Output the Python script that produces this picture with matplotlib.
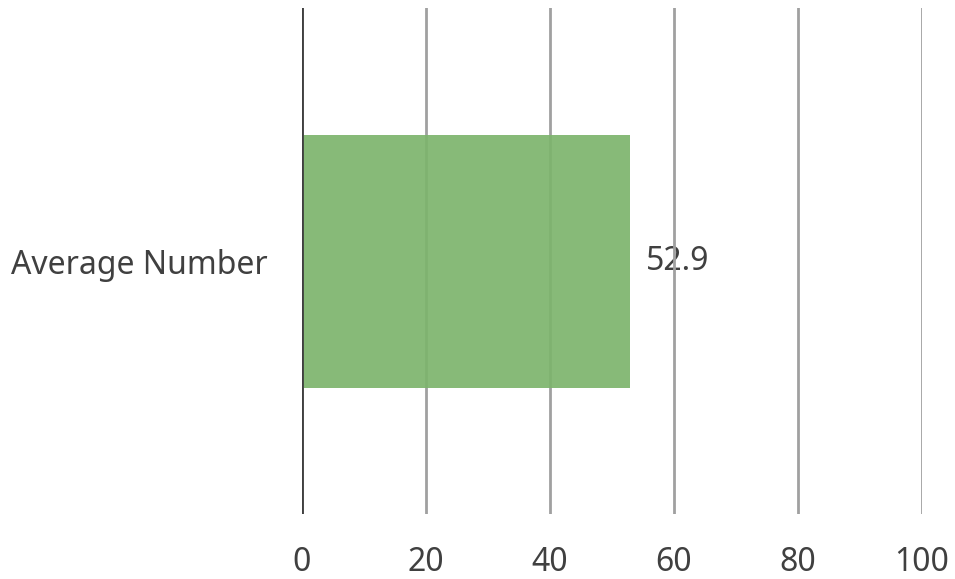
import matplotlib
matplotlib.use('Agg')

import matplotlib.pyplot as plt

categories = ["Average Number"]
values = [52.9]
x_ticks = [0, 20, 40, 60, 80, 100]

plt.rcParams['font.family'] = ['Noto Sans', 'DejaVu Sans']

fig = plt.figure(figsize=(9.55, 5.79), dpi=100)
ax = fig.add_axes([302 / 955, 65 / 579, 620 / 955, 506 / 579])

# ---------- BAR ----------
ax.barh(categories, values, height=0.5, color="#7db46c", alpha=0.92, zorder=3)

for i, v in enumerate(values):
    ax.text(v + 2.5, i, f"{v:.1f}", va="center", ha="left",
            fontsize=23, color="#404040", zorder=1)

# ---------- AXES ----------
ax.set_xlim(0, 100)
ax.set_ylim(-0.5, 0.5)
ax.set_xticks(x_ticks)
ax.set_xticklabels([str(t) for t in x_ticks])
ax.grid(axis="x", color="#a0a0a0", linewidth=2, zorder=2)
ax.axvline(0, color="#404040", linewidth=2, zorder=4)

for s in ax.spines.values():
    s.set_visible(False)

ax.tick_params(axis="x", length=0, pad=23, labelsize=23, labelcolor="#404040")
ax.tick_params(axis="y", length=0, pad=25, labelsize=23, labelcolor="#404040")

fig.savefig("out.png", dpi=100)
plt.close(fig)
